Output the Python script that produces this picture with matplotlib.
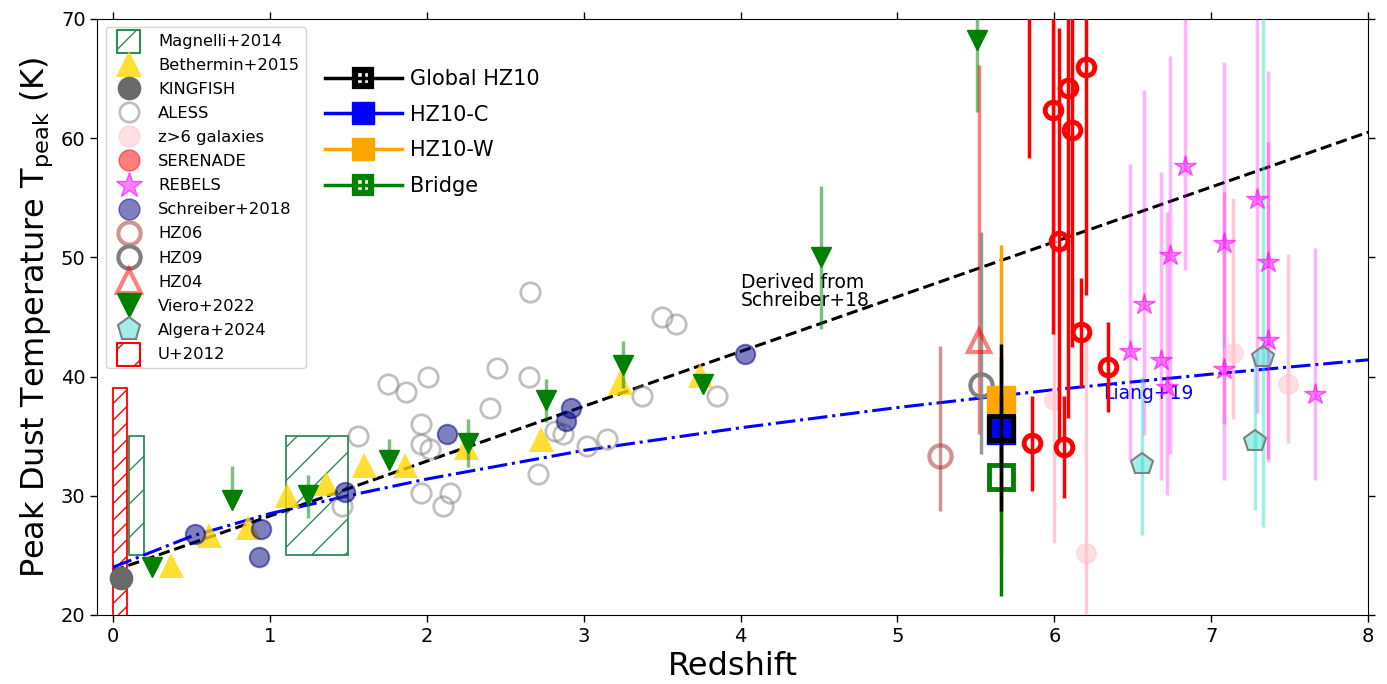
import matplotlib
matplotlib.use('Agg')
import matplotlib.pyplot as plt
from matplotlib.lines import Line2D
from matplotlib.colors import to_rgba
import numpy as np

# relations at a few redshifts
z_rel = [0, 0.5, 1, 1.5, 2, 3, 4, 5, 6, 7, 8]
T_schreiber = [23.7, 26.0, 28.3, 30.6, 32.9, 37.5, 42.1, 46.7, 51.3, 55.9, 60.5]
T_liang = [24.0, 26.6, 28.5, 30.0, 31.4, 33.8, 35.7, 37.4, 38.9, 40.2, 41.4]

# Magnelli+2014 boxes
magnelli_z_lo = [0.10, 1.10]
magnelli_z_hi = [0.20, 1.50]
magnelli_T_lo = [25.0, 25.0]
magnelli_T_hi = [35.0, 35.0]

# U+2012 box
u12_z_lo = [0.0]
u12_z_hi = [0.09]
u12_T_lo = [0.0]
u12_T_hi = [39.0]

# Bethermin+2015
z_beth = [0.37, 0.61, 0.86, 1.11, 1.36, 1.60, 1.86, 2.25, 2.73, 3.23, 3.74]
T_beth = [24.2, 26.7, 27.4, 30.1, 31.1, 32.6, 32.6, 34.1, 34.8, 39.5, 40.1]

# KINGFISH
z_king = [0.05]
T_king = [23.1]

# ALESS
z_aless = [1.46, 1.56, 1.75, 1.87, 2.01, 1.96, 1.96, 2.02, 1.96, 2.15, 2.10, 2.40,
           2.45, 2.65, 2.66, 2.82, 2.87, 2.71, 3.02, 3.15, 3.37, 3.50, 3.59, 3.85]
T_aless = [29.1, 35.0, 39.4, 38.7, 40.0, 36.0, 34.3, 33.9, 30.2, 30.2, 29.1, 37.4,
           40.7, 40.0, 47.1, 35.4, 35.2, 31.8, 34.2, 34.8, 38.4, 45.0, 44.4, 38.4]

# Schreiber+2018
z_sch = [0.52, 0.94, 0.93, 1.48, 2.13, 2.92, 2.89, 4.03]
T_sch = [26.8, 27.2, 24.9, 30.3, 35.2, 37.4, 36.3, 41.9]

# Viero+2022
z_viero = [0.25, 0.76, 1.24, 1.76, 2.26, 2.76, 3.25, 3.76, 4.51, 5.51]
T_viero = [24.0, 29.6, 30.1, 33.0, 34.4, 38.0, 41.0, 39.4, 50.0, 68.2]
viero_lo = [0, 0, 2.0, 0, 2.0, 1.8, 2.0, 0, 6.0, 6.0]
viero_hi = [0, 2.9, 1.6, 1.8, 2.0, 1.8, 2.0, 0, 6.0, 6.0]

# z>6 galaxies
z_z6 = [6.00, 6.20, 7.14, 7.49]
T_z6 = [38.0, 25.2, 42.0, 39.4]
z6_lo = [12.0, 18.0, 5.6, 5.0]
z6_hi = [32.0, 18.0, 13.0, 10.9]

# SERENADE
z_ser = [5.84, 5.86, 5.99, 6.03, 6.06, 6.09, 6.11, 6.17, 6.20, 6.34]
T_ser = [76.0, 34.4, 62.4, 51.4, 34.1, 64.2, 60.7, 43.7, 66.0, 40.8]
ser_lo = [17.7, 4.0, 18.8, 16.8, 4.3, 27.7, 18.2, 4.6, 19.2, 3.8]
ser_hi = [17.7, 4.0, 18.8, 17.8, 4.3, 27.7, 18.2, 4.6, 19.2, 3.8]

# REBELS
z_reb = [6.48, 6.57, 6.68, 6.72, 6.74, 6.83, 7.08, 7.08, 7.29, 7.36, 7.36, 7.66]
T_reb = [42.1, 46.1, 41.4, 39.1, 50.2, 57.7, 51.2, 40.6, 54.9, 49.6, 43.1, 38.5]
reb_lo = [9.1, 11.0, 10.1, 9.0, 16.7, 8.8, 15.2, 9.3, 18.0, 16.8, 10.0, 7.2]
reb_hi = [15.7, 17.9, 15.8, 14.7, 16.7, 15.0, 15.2, 14.9, 18.0, 16.0, 16.6, 12.3]

# Algera+2024
z_alg = [6.56, 7.28, 7.33]
T_alg = [32.7, 34.6, 41.6]
alg_lo = [6.0, 5.8, 14.2]
alg_hi = [7.3, 7.0, 30.0]

# HZ06 / HZ09 / HZ04
z_hz06, T_hz06, hz06_lo, hz06_hi = [5.27], [33.3], [4.6], [9.3]
z_hz09, T_hz09, hz09_lo, hz09_hi = [5.53], [39.3], [5.8], [12.8]
z_hz04, T_hz04, hz04_lo, hz04_hi = [5.52], [43.0], [7.8], [23.1]

# HZ10 components
z_hz10 = [5.66]
T_global, err_global = [35.7], [7.0]
T_c, err_c = [35.5], [3.0]
T_w, err_w = [38.0], [13.0]
T_bridge, err_bridge = [31.6], [10.0]


fig = plt.figure(figsize=(13.87, 6.84), dpi=100)
ax = fig.add_axes([0.0702, 0.101, 0.9162, 0.8713])

ax.plot(z_rel, T_schreiber, color='black', ls='--', lw=2.2, zorder=2)
ax.plot(z_rel, T_liang, color='blue', ls='-.', lw=2.2, zorder=2)

# hatched boxes
w = [b - a for a, b in zip(magnelli_z_lo, magnelli_z_hi)]
h = [b - a for a, b in zip(magnelli_T_lo, magnelli_T_hi)]
ax.bar(magnelli_z_lo, h, width=w, bottom=magnelli_T_lo, align='edge', fill=False,
       hatch='/', edgecolor='seagreen', lw=1.3, zorder=1)
w = [b - a for a, b in zip(u12_z_lo, u12_z_hi)]
h = [b - a for a, b in zip(u12_T_lo, u12_T_hi)]
ax.bar(u12_z_lo, h, width=w, bottom=u12_T_lo, align='edge', fill=False,
       hatch='//', edgecolor='red', lw=1.3, zorder=1)

ax.plot(z_aless, T_aless, 'o', mfc='none', mec=to_rgba('gray', 0.5), ms=14, mew=2, zorder=3)
ax.plot(z_beth, T_beth, '^', color='gold', alpha=0.8, ms=18, mew=0, zorder=4)
ax.plot(z_king, T_king, 'o', color='dimgray', ms=16, zorder=4)
ax.plot(z_sch, T_sch, 'o', mfc=to_rgba('navy', 0.5), mec=to_rgba('navy', 0.5), ms=14, mew=1.5, zorder=4)
ax.errorbar(z_viero, T_viero, yerr=[viero_lo, viero_hi], fmt='v', color='green', ms=15,
            ecolor=to_rgba('green', 0.5), elinewidth=2.5, zorder=5)

ax.errorbar(z_z6, T_z6, yerr=[z6_lo, z6_hi], fmt='o', mfc=to_rgba('pink', 0.5),
            mec=to_rgba('pink', 0.5), ms=14, ecolor=to_rgba('pink', 0.85), elinewidth=2.5, zorder=3)
ax.errorbar(z_reb, T_reb, yerr=[reb_lo, reb_hi], fmt='*', mfc=to_rgba('magenta', 0.5),
            mec=to_rgba('magenta', 0.6), ms=16, ecolor=to_rgba('magenta', 0.3), elinewidth=2.5, zorder=3)
ax.errorbar(z_alg, T_alg, yerr=[alg_lo, alg_hi], fmt='p', mfc=to_rgba('turquoise', 0.5),
            mec='gray', mew=1.5, ms=16, ecolor=to_rgba('turquoise', 0.5), elinewidth=2.5, zorder=3)
ax.errorbar(z_ser, T_ser, yerr=[ser_lo, ser_hi], fmt='o', mfc='none', mec='red', mew=3.5,
            ms=12, ecolor='red', elinewidth=2.5, zorder=4)

ax.errorbar(z_hz06, T_hz06, yerr=[hz06_lo, hz06_hi], fmt='o', mfc='none', mec=to_rgba('brown', 0.5),
            mew=3, ms=16, ecolor=to_rgba('brown', 0.5), elinewidth=2.5, zorder=4)
ax.errorbar(z_hz04, T_hz04, yerr=[hz04_lo, hz04_hi], fmt='^', mfc='none', mec=to_rgba('red', 0.5),
            mew=3, ms=16, ecolor=to_rgba('red', 0.5), elinewidth=2.5, zorder=4)
ax.errorbar(z_hz09, T_hz09, yerr=[hz09_lo, hz09_hi], fmt='o', mfc='none', mec='gray',
            mew=3, ms=16, ecolor=to_rgba('gray', 0.8), elinewidth=2.5, zorder=4)

ax.errorbar(z_hz10, T_w, yerr=err_w, fmt='s', color='orange', ms=20,
            elinewidth=2.5, zorder=5)
ax.errorbar(z_hz10, T_bridge, yerr=err_bridge, fmt='s', color='green', mfc='none',
            ms=17, mew=3.5, elinewidth=2.5, zorder=5)
ax.errorbar(z_hz10, T_c, yerr=err_c, fmt='s', color='blue', ms=20,
            elinewidth=2.5, zorder=6)
ax.errorbar(z_hz10, T_global, yerr=err_global, fmt='s', color='black', mfc='none',
            ms=17, mew=3.5, elinewidth=2.5, zorder=7)

ax.text(4.0, 45.9, 'Derived from\nSchreiber+18', fontsize=13.5, va='baseline', ha='left',
        linespacing=0.95)
ax.text(6.31, 38.1, 'Liang+19', fontsize=13.5, color='blue', va='baseline', ha='left')

ax.set_xlim(-0.1, 8)
ax.set_ylim(20, 70)
ax.set_xlabel('Redshift', fontsize=23)
ax.set_ylabel('Peak Dust Temperature T$_{\\rm peak}$ (K)', fontsize=23)
ax.tick_params(direction='out', top=True, right=True, labelsize=14, length=5, width=1)

# legend proxies
mag_h = ax.scatter([], [], marker='s', s=270, facecolors='none', edgecolors='seagreen',
                   hatch='/', linewidths=1.5)
u12_h = ax.scatter([], [], marker='s', s=270, facecolors='none', edgecolors='red',
                   hatch='/', linewidths=1.5)
handles = [
    mag_h,
    Line2D([], [], ls='none', marker='^', color='gold', alpha=0.8, ms=19, mew=0),
    Line2D([], [], ls='none', marker='o', color='dimgray', ms=16),
    Line2D([], [], ls='none', marker='o', mfc='none', mec=to_rgba('gray', 0.5), ms=14, mew=2),
    Line2D([], [], ls='none', marker='o', mfc=to_rgba('pink', 0.5), mec=to_rgba('pink', 0.5), ms=15),
    Line2D([], [], ls='none', marker='o', mfc=to_rgba('red', 0.5), mec=to_rgba('red', 0.5), ms=15),
    Line2D([], [], ls='none', marker='*', mfc=to_rgba('magenta', 0.5), mec=to_rgba('magenta', 0.6), ms=19),
    Line2D([], [], ls='none', marker='o', mfc=to_rgba('navy', 0.5), mec=to_rgba('navy', 0.5), ms=15),
    Line2D([], [], ls='none', marker='o', mfc='none', mec=to_rgba('brown', 0.5), ms=16, mew=3),
    Line2D([], [], ls='none', marker='o', mfc='none', mec='gray', ms=16, mew=3),
    Line2D([], [], ls='none', marker='^', mfc='none', mec=to_rgba('red', 0.5), ms=17, mew=3),
    Line2D([], [], ls='none', marker='v', color='green', ms=17),
    Line2D([], [], ls='none', marker='p', mfc=to_rgba('turquoise', 0.5), mec='gray', ms=17, mew=1.5),
    u12_h,
]
labels = ['Magnelli+2014', 'Bethermin+2015', 'KINGFISH', 'ALESS', 'z>6 galaxies', 'SERENADE',
          'REBELS', 'Schreiber+2018', 'HZ06', 'HZ09', 'HZ04', 'Viero+2022', 'Algera+2024', 'U+2012']
leg1 = ax.legend(handles, labels, loc='upper left', fontsize=11.8, labelspacing=0.555)
ax.add_artist(leg1)

# errorbar handles for the HZ10 legend (no visible data)
lg = ax.errorbar([np.nan], [np.nan], yerr=[1.0], fmt='s', ls='-', color='black', mfc='none',
                 ms=11, mew=4.5, lw=2.5, elinewidth=2.5)
lc = ax.errorbar([np.nan], [np.nan], yerr=[1.0], fmt='s', ls='-', color='blue', ms=15.5,
                 lw=2.5, elinewidth=2.5)
lw_ = ax.errorbar([np.nan], [np.nan], yerr=[1.0], fmt='s', ls='-', color='orange', ms=15.5,
                  lw=2.5, elinewidth=2.5)
lb = ax.errorbar([np.nan], [np.nan], yerr=[1.0], fmt='s', ls='-', color='green', mfc='none',
                 ms=11, mew=4.5, lw=2.5, elinewidth=2.5)
ax.legend([lg, lc, lw_, lb], ['Global HZ10', 'HZ10-C', 'HZ10-W', 'Bridge'], loc='upper left',
          bbox_to_anchor=(0.1725, 0.930), borderaxespad=0, frameon=False, fontsize=15,
          labelspacing=0.75, handlelength=3.7, handletextpad=0.4)

plt.savefig('out.png', dpi=100)
